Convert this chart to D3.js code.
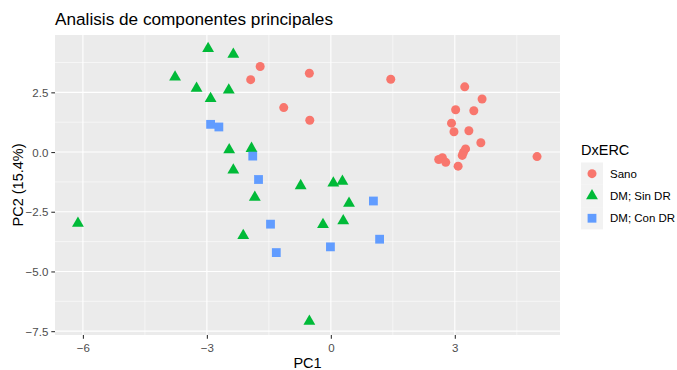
<!DOCTYPE html>
<html lang="es">
<head>
<meta charset="UTF-8">
<title>Analisis de componentes principales</title>
<script src="https://d3js.org/d3.v7.min.js"></script>
<style>
  body { margin: 0; background: #fff; }
  svg { font-family: "Liberation Sans", Arial, sans-serif; display: block; }
</style>
</head>
<body>
<script>
// grupos y colores (paleta por defecto de ggplot)
const groups = ["Sano", "DM; Sin DR", "DM; Con DR"];
const colors = ["#F8766D", "#00BA38", "#619CFF"];

// coordenadas PC1 / PC2 de cada grupo
const sanoPC1 = [-1.94, -1.71, -0.52, -1.14, -0.51, 1.45, 3.24, 3.66, 3.02, 3.46, 2.92,
                 2.98, 3.34, 3.63, 3.26, 3.21, 3.18, 2.61, 2.70, 2.78, 3.08, 4.99];
const sanoPC2 = [3.03, 3.58, 3.30, 1.86, 1.33, 3.05, 2.73, 2.22, 1.77, 1.73, 1.21,
                 0.85, 0.89, 0.39, 0.13, -0.01, -0.14, -0.31, -0.24, -0.43, -0.59, -0.19];

const sinPC1 = [-2.97, -2.36, -3.77, -3.25, -2.47, -2.91, -2.46, -1.92, -2.36, -0.73,
                0.06, 0.28, -1.84, -6.12, -2.12, -0.19, -0.52, 0.44, 0.30];
const sinPC2 = [4.33, 4.09, 3.14, 2.67, 2.59, 2.24, 0.09, 0.15, -0.76, -1.41,
                -1.30, -1.23, -1.90, -2.99, -3.50, -3.04, -7.09, -2.15, -2.88];

const conPC1 = [-2.91, -2.71, -1.89, -1.75, -1.46, -1.32, -0.01, 1.03, 1.18];
const conPC2 = [1.16, 1.05, -0.17, -1.15, -3.02, -4.21, -3.97, -2.05, -3.65];

const xBreaks = [-6, -3, 0, 3];
const yBreaks = [-7.5, -5, -2.5, 0, 2.5];

const W = 677, H = 370;
const panel = { left: 55, right: 560, top: 35, bottom: 335 };

const series = [
  { name: groups[0], color: colors[0], shape: "circle",   xs: sanoPC1, ys: sanoPC2 },
  { name: groups[1], color: colors[1], shape: "triangle", xs: sinPC1,  ys: sinPC2 },
  { name: groups[2], color: colors[2], shape: "square",   xs: conPC1,  ys: conPC2 }
];

const allX = series.flatMap(s => s.xs), allY = series.flatMap(s => s.ys);
function expand(ext) { const d = (ext[1] - ext[0]) * 0.05; return [ext[0] - d, ext[1] + d]; }

const x = d3.scaleLinear().domain(expand(d3.extent(allX))).range([panel.left, panel.right]);
const y = d3.scaleLinear().domain(expand(d3.extent(allY))).range([panel.bottom, panel.top]);

const svg = d3.select("body").append("svg").attr("width", W).attr("height", H);

// fondo del panel
svg.append("rect")
  .attr("x", panel.left).attr("y", panel.top)
  .attr("width", panel.right - panel.left).attr("height", panel.bottom - panel.top)
  .attr("fill", "#EBEBEB");

// rejilla secundaria
const xMinor = d3.pairs(xBreaks).map(p => (p[0] + p[1]) / 2)
  .concat([xBreaks[0] - 1.5, xBreaks[xBreaks.length - 1] + 1.5])
  .filter(v => x(v) >= panel.left && x(v) <= panel.right);
const yMinor = d3.pairs(yBreaks).map(p => (p[0] + p[1]) / 2)
  .concat([yBreaks[yBreaks.length - 1] + 1.25])
  .filter(v => y(v) >= panel.top && y(v) <= panel.bottom);

const grid = svg.append("g").attr("stroke", "#fff");
grid.selectAll(".xm").data(xMinor).enter().append("line")
  .attr("x1", d => x(d)).attr("x2", d => x(d)).attr("y1", panel.top).attr("y2", panel.bottom)
  .attr("stroke-width", 0.55);
grid.selectAll(".ym").data(yMinor).enter().append("line")
  .attr("x1", panel.left).attr("x2", panel.right).attr("y1", d => y(d)).attr("y2", d => y(d))
  .attr("stroke-width", 0.55);
grid.selectAll(".xM").data(xBreaks).enter().append("line")
  .attr("x1", d => x(d)).attr("x2", d => x(d)).attr("y1", panel.top).attr("y2", panel.bottom)
  .attr("stroke-width", 1.1);
grid.selectAll(".yM").data(yBreaks).enter().append("line")
  .attr("x1", panel.left).attr("x2", panel.right).attr("y1", d => y(d)).attr("y2", d => y(d))
  .attr("stroke-width", 1.1);

// ejes
const xAxis = svg.append("g").attr("transform", `translate(0,${panel.bottom})`)
  .call(d3.axisBottom(x).tickValues(xBreaks).tickSize(3.7).tickPadding(5).tickFormat(d3.format("d")));
const yAxis = svg.append("g").attr("transform", `translate(${panel.left},0)`)
  .call(d3.axisLeft(y).tickValues(yBreaks).tickSize(3.7).tickPadding(3).tickFormat(d3.format(".1f")));
[xAxis, yAxis].forEach(a => {
  a.select(".domain").remove();
  a.selectAll(".tick line").attr("stroke", "#333333").attr("stroke-width", 1.1);
  a.selectAll(".tick text").attr("fill", "#4D4D4D").style("font-size", "11.5px")
    .style("font-family", "'Liberation Sans', Arial, sans-serif");
});
yAxis.selectAll(".tick text").attr("dy", "0.36em");

// simbolos
const triangle = {
  draw(ctx, size) {
    const s = Math.sqrt(size) / 2;
    ctx.moveTo(0, -1.555 * s);
    ctx.lineTo(1.347 * s, 0.778 * s);
    ctx.lineTo(-1.347 * s, 0.778 * s);
    ctx.closePath();
  }
};
const symbolFor = {
  circle: d3.symbol(d3.symbolCircle, Math.PI * 4.5 * 4.5),
  square: d3.symbol(d3.symbolSquare, 8.8 * 8.8),
  triangle: d3.symbol(triangle, 4 * 4.4 * 4.4)
};

series.forEach(s => {
  const pts = s.xs.map((v, i) => [v, s.ys[i]]);
  svg.append("g").selectAll("path").data(pts).enter().append("path")
    .attr("transform", d => `translate(${x(d[0])},${y(d[1])})`)
    .attr("d", symbolFor[s.shape]())
    .attr("fill", s.color);
});

// titulos
svg.append("text").attr("x", panel.left).attr("y", 25)
  .style("font-size", "17.2px").attr("fill", "#000")
  .text("Analisis de componentes principales");
svg.append("text").attr("x", (panel.left + panel.right) / 2).attr("y", 368)
  .attr("text-anchor", "middle").style("font-size", "14.5px").attr("fill", "#000")
  .text("PC1");
svg.append("text").attr("transform", `translate(23,${(panel.top + panel.bottom) / 2}) rotate(-90)`)
  .attr("text-anchor", "middle").style("font-size", "14.5px").attr("fill", "#000")
  .text("PC2 (15.4%)");

// leyenda
const leg = svg.append("g").attr("transform", "translate(581,0)");
leg.append("text").attr("x", 0).attr("y", 155).style("font-size", "14.5px").attr("fill", "#000")
  .text("DxERC");
const keyH = 22.3, keyTop = 162.5;
series.forEach((s, i) => {
  const cy = keyTop + keyH * i + keyH / 2;
  leg.append("rect").attr("x", 0).attr("y", keyTop + keyH * i).attr("width", 22).attr("height", keyH)
    .attr("fill", "#F2F2F2");
  leg.append("path").attr("transform", `translate(11,${cy})`)
    .attr("d", symbolFor[s.shape]()).attr("fill", s.color);
  leg.append("text").attr("x", 29).attr("y", cy).attr("dy", "0.36em")
    .style("font-size", "11.5px").attr("fill", "#000").text(s.name);
});
</script>
</body>
</html>
